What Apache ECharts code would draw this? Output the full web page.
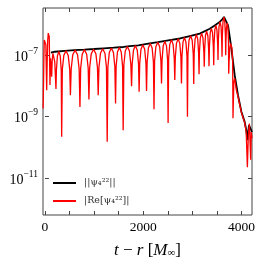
<!DOCTYPE html>
<html><head><meta charset="utf-8">
<script src="https://cdn.jsdelivr.net/npm/echarts@6/dist/echarts.min.js"></script>
<style>html,body{margin:0;padding:0;background:#fff}#c{width:261px;height:261px}</style>
</head><body><div id="c"></div>
<script>
// |psi4^22| amplitude (black): [t - r, value]
const absData = [[122,1.20e-7],[160,1.26e-7],[200,1.29e-7],[400,1.38e-7],[600,1.45e-7],[800,1.51e-7],[1000,1.58e-7],
 [1200,1.66e-7],[1400,1.74e-7],[1600,1.84e-7],[1728,1.95e-7],[1900,2.09e-7],[2135,2.40e-7],[2300,2.63e-7],[2541,3.09e-7],
 [2750,3.47e-7],[2948,4.17e-7],[3151,5.0e-7],[3355,7.2e-7],[3456,9.1e-7],[3558,1.20e-6],[3610,1.45e-6],[3645,1.74e-6],
 [3680,1.51e-6],[3727,9.3e-7],[3761,4.0e-7],[3795,1.66e-7],[3863,2.24e-8],[3930,5.0e-9],[3999,1.45e-9],[4066,6.8e-10],
 [4100,3.5e-10],[4121,1.74e-10],[4140,3.5e-10],[4154,5.4e-10],[4188,5.0e-10],[4214,3.2e-10]];
// |Re psi4^22| (red): [t - r, value]
const reData = [
 [-38,1.86e-9],[-30,1.0e-8],[-22,8.0e-8],[-14,3.1e-7],[-4,3.4e-7],[6,3.0e-7],[18,2.2e-7],[26,4.0e-8],[35,7.2e-9],[45,6.0e-8],
 [56,3.0e-7],[67,5.2e-7],[78,4.6e-7],[87,4.0e-7],[95,6.0e-8],[102,1.07e-8],[112,7.9e-8],[122,5.4e-8],[136,2.0e-8],[148,7.0e-8],
 [162,1.15e-7],[180,1.2e-7],[200,6.0e-8],[224,7.9e-9],
 [233,3.3e-8],[253,9.4e-8],[282,1.32e-7],[311,9.4e-8],[331,3.3e-8],[340,2.24e-10],
 [354,3.5e-8],[384,9.8e-8],[429,1.38e-7],[473,9.8e-8],[504,3.5e-8],[518,5.0e-9],
 [534,3.6e-8],[566,1.03e-7],[615,1.45e-7],[663,1.03e-7],[696,3.6e-8],[712,2.09e-9],
 [727,3.8e-8],[758,1.07e-7],[803,1.51e-7],[849,1.07e-7],[880,3.8e-8],[895,3.63e-9],
 [910,3.9e-8],[942,1.10e-7],[990,1.55e-7],[1037,1.10e-7],[1069,3.9e-8],[1084,5.0e-9],
 [1099,4.0e-8],[1130,1.15e-7],[1175,1.62e-7],[1221,1.15e-7],[1252,4.0e-8],[1267,1.55e-10],
 [1281,4.2e-8],[1310,1.21e-7],[1352,1.70e-7],[1394,1.21e-7],[1423,4.2e-8],[1437,2.69e-9],
 [1449,4.4e-8],[1476,1.26e-7],[1515,1.78e-7],[1553,1.26e-7],[1580,4.4e-8],[1592,3.63e-10],
 [1606,4.8e-8],[1635,1.36e-7],[1677,1.91e-7],[1720,1.36e-7],[1749,4.8e-8],[1763,9.8e-9],
 [1775,5.1e-8],[1802,1.45e-7],[1840,2.04e-7],[1879,1.45e-7],[1905,5.1e-8],[1917,6.5e-9],
 [1929,5.5e-8],[1955,1.55e-7],[1992,2.19e-7],[2030,1.55e-7],[2056,5.5e-8],[2068,6.9e-9],
 [2080,6.0e-8],[2106,1.70e-7],[2144,2.40e-7],[2182,1.70e-7],[2208,6.0e-8],[2220,1.74e-9],
 [2232,6.6e-8],[2258,1.87e-7],[2297,2.63e-7],[2335,1.87e-7],[2361,6.6e-8],[2373,1.2e-8],
 [2384,7.0e-8],[2407,2.0e-7],[2440,2.82e-7],[2474,2.0e-7],[2496,7.0e-8],[2507,6.3e-10],
 [2518,7.9e-8],[2541,2.24e-7],[2575,3.16e-7],[2609,2.24e-7],[2632,7.9e-8],[2643,1.55e-8],
 [2654,8.5e-8],[2677,2.41e-7],[2711,3.39e-7],[2745,2.41e-7],[2768,8.5e-8],[2779,1.2e-8],
 [2789,9.3e-8],[2810,2.64e-7],[2840,3.72e-7],[2870,2.64e-7],[2891,9.3e-8],[2901,1.0e-9],
 [2911,1.07e-7],[2933,3.03e-7],[2965,4.27e-7],[2997,3.03e-7],[3019,1.07e-7],[3029,1.15e-8],
 [3038,1.17e-7],[3056,3.32e-7],[3083,4.68e-7],[3110,3.32e-7],[3128,1.17e-7],[3137,2.4e-8],
 [3145,1.28e-7],[3163,3.64e-7],[3190,5.13e-7],[3216,3.64e-7],[3235,1.28e-7],[3243,4.2e-8],
 [3251,1.5e-7],[3267,4.26e-7],[3291,6.0e-7],[3316,4.26e-7],[3332,1.5e-7],[3340,4.4e-8],
 [3348,1.85e-7],[3364,5.25e-7],[3388,7.4e-7],[3412,5.25e-7],[3428,1.85e-7],[3436,4.7e-8],
 [3443,2.3e-7],[3458,6.6e-7],[3480,9.3e-7],[3501,6.6e-7],[3516,2.3e-7],[3523,6.9e-8],
 [3530,3.0e-7],[3544,8.5e-7],[3564,1.20e-6],[3585,8.5e-7],[3598,3.0e-7],[3605,8.9e-8],
 [3611,4.2e-7],[3624,1.2e-6],[3643,1.70e-6],[3661,1.2e-6],[3674,4.2e-7],[3680,1.0e-7],
 [3685,2.8e-7],[3695,7.8e-7],[3710,1.1e-6],[3726,7.8e-7],[3736,2.8e-7],[3741,2.5e-8],
 [3748,6.0e-8],[3763,1.7e-7],[3780,2.4e-7],[3806,1.7e-7],[3821,6.0e-8],[3828,8.9e-10],
 [3845,1.26e-8],[3863,1.78e-8],[3897,7.2e-9],[3930,4.5e-9],[3999,1.38e-9],[4066,6.3e-10],[4097,3.2e-10],
 [4121,2.3e-11],[4140,2.5e-10],[4162,6.0e-10],[4188,4.0e-11],[4200,3.2e-10],[4214,2.0e-10]];
const xTickValues = [0,500,1000,1500,2000,2500,3000,3500,4000];
const xLabelValues = [0,2000,4000];
const yLabelExps = [-11,-9,-7];
const xRange = [-40, 4215];
const yRange = [6.46e-13, 3.39e-6];
const seriesNames = ['||ψ₄²²||', '|Re[ψ₄²²]|'];

const serif = 'Liberation Serif';
const frame = '#444';
const chart = echarts.init(document.getElementById('c'), null, {renderer: 'canvas'});
function yDecor(pos, showLabels) {
  return {
    type: 'value', position: pos, gridIndex: 0,
    min: Math.log10(yRange[0]), max: Math.log10(yRange[1]),
    axisLine: {show: false}, splitLine: {show: false},
    axisTick: {show: true, inside: true, length: 4, customValues: yLabelExps, lineStyle: {color: frame}},
    axisLabel: {
      show: showLabels, customValues: yLabelExps, margin: 5,
      formatter: v => '{b|10}{s|−' + Math.round(Math.abs(v)) + '}',
      rich: {
        b: {fontFamily: serif, fontSize: 14, lineHeight: 18, verticalAlign: 'bottom', color: '#000'},
        s: {fontFamily: serif, fontSize: 9.5, lineHeight: 8, verticalAlign: 'top', color: '#000'}
      }
    }
  };
}
chart.setOption({
  animation: false,
  backgroundColor: '#fff',
  grid: {left: 43, right: 9, top: 8, bottom: 46, show: true, borderColor: frame, borderWidth: 1,
         containLabel: false, outerBoundsMode: 'none'},
  legend: {
    orient: 'vertical', left: 53, top: 176, padding: 0, itemWidth: 23, itemHeight: 2, itemGap: 4,
    icon: 'rect', data: seriesNames,
    textStyle: {fontFamily: 'DejaVu Serif', fontSize: 9.5, color: '#333', lineHeight: 14, padding: [0, 0, 0, 3]}
  },
  xAxis: [
    {
      type: 'value', position: 'bottom', min: xRange[0], max: xRange[1],
      axisLine: {show: false}, splitLine: {show: false},
      axisTick: {inside: true, length: 4, customValues: xTickValues, lineStyle: {color: frame}},
      axisLabel: {customValues: xLabelValues, margin: 5, fontFamily: serif, fontSize: 13.5, color: '#000',
                  formatter: v => String(v)},
      name: '{i|t} − {i|r} [{i|M}{sub|∞}]', nameLocation: 'middle', nameGap: 27,
      nameTextStyle: {
        fontFamily: serif, fontSize: 17, color: '#000',
        rich: {
          i: {fontFamily: serif, fontSize: 17, fontStyle: 'italic', color: '#000'},
          sub: {fontFamily: serif, fontSize: 11, lineHeight: 11, verticalAlign: 'bottom', color: '#000'}
        }
      }
    },
    {
      type: 'value', position: 'top', min: xRange[0], max: xRange[1],
      axisLine: {show: false}, splitLine: {show: false},
      axisTick: {inside: true, length: 4, customValues: xTickValues, lineStyle: {color: frame}},
      axisLabel: {show: false}
    }
  ],
  yAxis: [
    {type: 'log', logBase: 10, min: yRange[0], max: yRange[1], show: false, position: 'left'},
    yDecor('left', true),
    yDecor('right', false)
  ],
  series: [
    {
      type: 'line', name: seriesNames[0], xAxisIndex: 0, yAxisIndex: 0, data: absData,
      showSymbol: false, symbol: 'none', z: 2,
      lineStyle: {color: '#000', width: 1.8}, itemStyle: {color: '#000'}
    },
    {
      type: 'line', name: seriesNames[1], xAxisIndex: 0, yAxisIndex: 0, data: reData,
      showSymbol: false, symbol: 'none', z: 3,
      lineStyle: {color: '#ff0000', width: 1.3}, itemStyle: {color: '#ff0000'}
    }
  ]
});
</script>
</body></html>
